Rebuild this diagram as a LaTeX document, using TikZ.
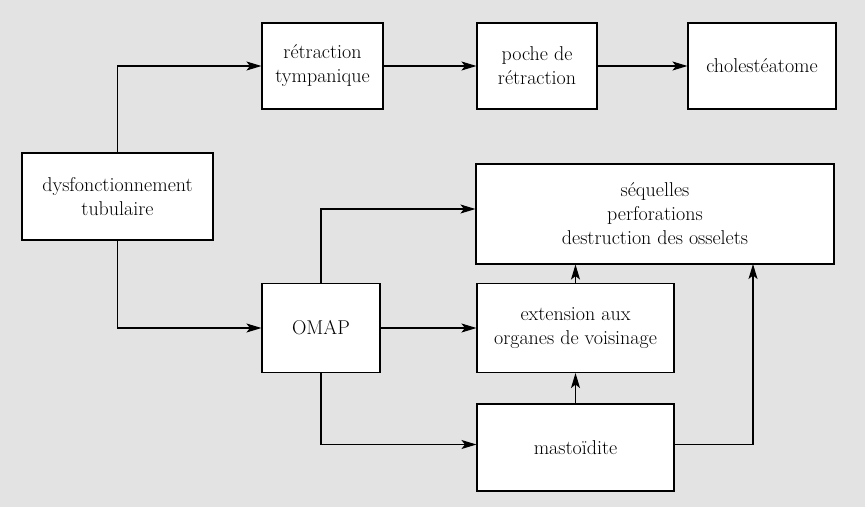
\documentclass[tikz,border=0pt]{standalone}
\usepackage{tikz}
\usetikzlibrary{arrows.meta}

\begin{document}
\begin{tikzpicture}[x=1pt,y=-1pt,font=\fontsize{20}{24}\selectfont,
    box/.style={draw,fill=white,line width=1.1pt,align=center,inner sep=0pt},
    flow/.style={line width=1.1pt,-{Stealth[length=15pt,width=9pt,inset=3.5pt]}}]
      \fill[black!11] (0, 0) rectangle (865, 507);
      \node[box,minimum width=191,minimum height=87] (dysf) at (117.5, 196.5) {dysfonctionnement\\tubulaire};
      \node[box,minimum width=121,minimum height=86] (retr) at (322.5, 66) {rétraction\\tympanique};
      \node[box,minimum width=120,minimum height=86] (poche) at (537, 66) {poche de\\rétraction};
      \node[box,minimum width=148,minimum height=86] (chol) at (762, 66) {cholestéatome};
      \node[box,minimum width=358,minimum height=100] (seq) at (655, 214) {séquelles\\perforations\\destruction des osselets};
      \node[box,minimum width=118,minimum height=89] (omap) at (321, 328) {OMAP};
      \node[box,minimum width=197,minimum height=89] (ext) at (575.5, 328) {extension aux\\organes de voisinage};
      \node[box,minimum width=197,minimum height=87] (mast) at (575.5, 447.5) {mastoïdite};
      \coordinate (seqin) at (753, 264);
      \draw[flow] (dysf.north) |- (retr.west);
      \draw[flow] (dysf.south) |- (omap.west);
      \draw[flow] (retr) -- (poche);
      \draw[flow] (poche) -- (chol);
      \draw[flow] (omap.north) |- ([yshift=5pt]seq.west);
      \draw[flow] (omap) -- (ext);
      \draw[flow] (omap.south) |- ([yshift=3pt]mast.west);
      \draw[flow] (ext.north) -- (ext.north |- seq.south);
      \draw[flow] (mast) -- (ext);
      \draw[flow] ([yshift=3pt]mast.east) -| (seqin);
    \end{tikzpicture}
\end{document}
